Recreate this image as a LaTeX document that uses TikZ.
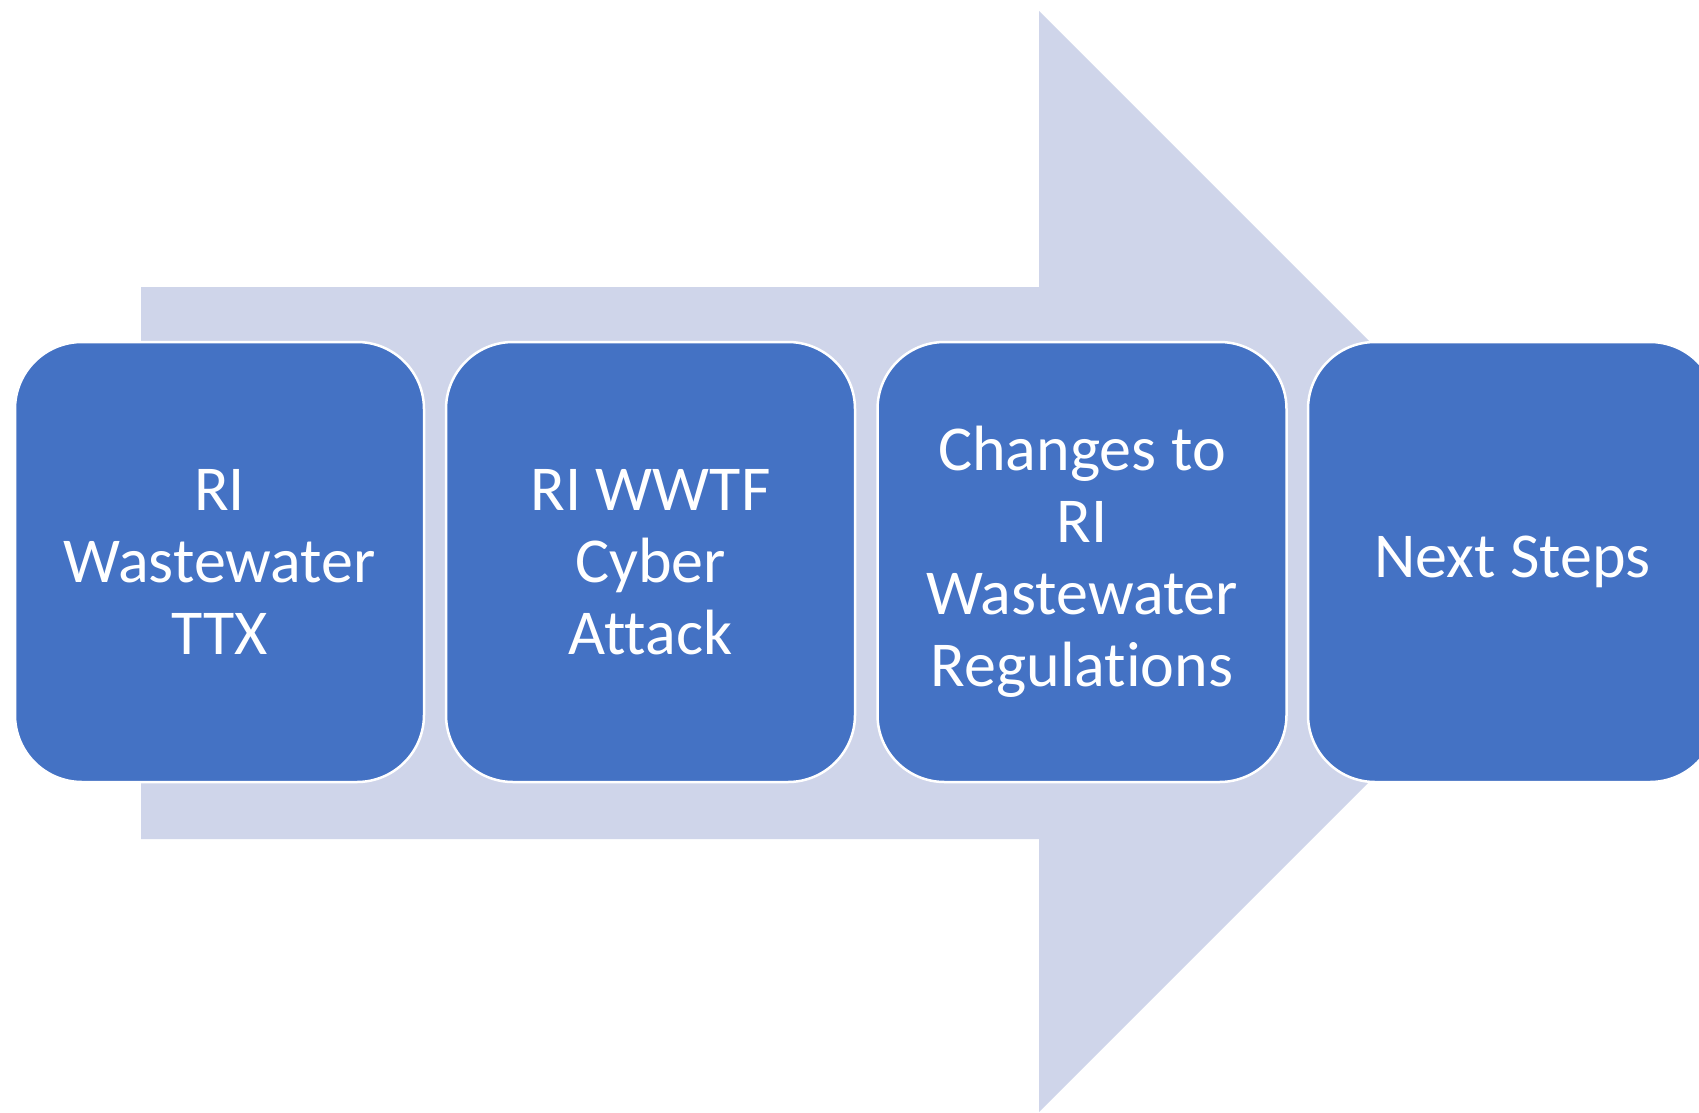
\documentclass[tikz,border=0pt]{standalone}
\usepackage{fontspec}
\setmainfont{Carlito}[Ligatures={NoCommon}]
\definecolor{boxblue}{HTML}{4472C4}
\definecolor{arrowfill}{HTML}{CFD5EA}
\begin{document}
\begin{tikzpicture}[x=1pt,y=-1pt,
  stepbox/.style={rectangle, rounded corners=67pt, fill=boxblue, draw=white,
    line width=2.5pt, minimum width=409pt, minimum height=440pt, align=center,
    text=white, font=\fontsize{64}{72}\selectfont, inner sep=0pt}]
\useasboundingbox (0,0) rectangle (1699,1113);
\clip (0,0) rectangle (1699,1113);
\fill[white] (0,0) rectangle (1699,1113);
\fill[arrowfill] (141,287) -- (1039,287) -- (1039,11) -- (1589.5,561.5)
  -- (1039,1112) -- (1039,839) -- (141,839) -- cycle;
\node[stepbox] (s1) at (219.5,562) {RI\\Wastewater\\TTX};
\node[stepbox] (s2) at (650.5,562) {RI WWTF\\Cyber\\Attack};
\node[stepbox] (s3) at (1082,562) {Changes to\\RI\\Wastewater\\Regulations};
\node[stepbox] (s4) at (1512.5,562) {Next Steps};
\end{tikzpicture}
\end{document}
